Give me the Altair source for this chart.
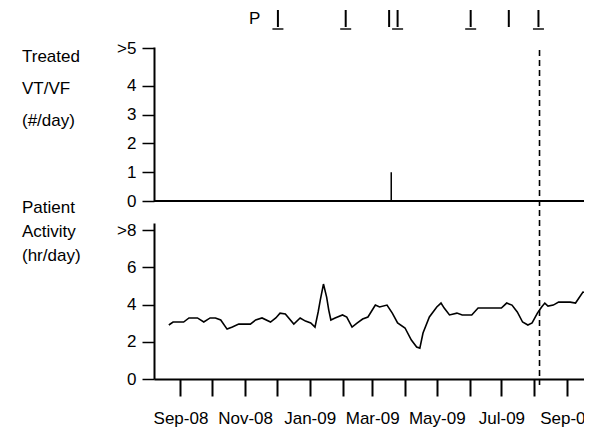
import altair as alt
import pandas as pd

# ---------------- data ----------------
act_dates = ["2008-08-21","2008-08-25","2008-09-04","2008-09-09","2008-09-17","2008-09-23","2008-09-29",
             "2008-10-04","2008-10-09","2008-10-15","2008-10-20","2008-10-26","2008-11-06","2008-11-11",
             "2008-11-17","2008-11-25","2008-11-30","2008-12-04","2008-12-09","2008-12-17","2008-12-23",
             "2008-12-28","2009-01-02","2009-01-06","2009-01-09","2009-01-11","2009-01-14","2009-01-17",
             "2009-01-19","2009-01-21","2009-01-25","2009-02-01","2009-02-05","2009-02-10","2009-02-15",
             "2009-02-20","2009-02-25","2009-03-04","2009-03-08","2009-03-15","2009-03-20","2009-03-25",
             "2009-04-01","2009-04-07","2009-04-12","2009-04-15","2009-04-18","2009-04-24","2009-05-01",
             "2009-05-05","2009-05-08","2009-05-13","2009-05-20","2009-05-25","2009-06-03","2009-06-09",
             "2009-06-20","2009-07-01","2009-07-06","2009-07-11","2009-07-16","2009-07-21","2009-07-26",
             "2009-07-30","2009-08-04","2009-08-08","2009-08-11","2009-08-14","2009-08-19","2009-08-24",
             "2009-09-04","2009-09-09","2009-09-16","2009-09-23"]
act_values = [2.90,3.06,3.06,3.28,3.28,3.06,3.28,
              3.28,3.17,2.68,2.79,2.95,2.95,3.17,
              3.28,3.06,3.28,3.54,3.49,2.95,3.28,
              3.11,3.01,2.79,3.60,4.24,5.10,4.40,
              3.70,3.17,3.28,3.44,3.33,2.79,3.01,
              3.22,3.33,3.97,3.87,3.97,3.54,3.01,
              2.74,2.09,1.72,1.66,2.47,3.33,3.87,
              4.08,3.81,3.44,3.54,3.44,3.44,3.81,
              3.81,3.81,4.08,3.97,3.60,3.06,2.90,
              3.01,3.54,3.87,4.08,3.92,3.97,4.13,
              4.13,4.08,4.67,4.62]

vt_dates = ["2009-03-19"]
vt_counts = [1]

marker_dates = ["2008-12-02","2009-02-04","2009-03-17","2009-03-25","2009-06-02","2009-07-08","2009-08-05"]
marker_underlined = [True, True, False, True, True, False, True]
p_dates = ["2008-11-10"]
p_labels = ["P"]
event_dates = ["2009-08-06"]

month_ticks = [(2008, 9), (2008, 10), (2008, 11), (2008, 12), (2009, 1), (2009, 2), (2009, 3),
               (2009, 4), (2009, 5), (2009, 6), (2009, 7), (2009, 8), (2009, 9)]
x_start = (2008, 8, 7)
x_end = (2009, 9, 17)

top_ticks = [0, 1, 2, 3, 4, 5.3]
bottom_ticks = [0, 2, 4, 6, 8]
top_title = ["Treated", "VT/VF", "(#/day)"]
bottom_title = ["Patient", "Activity", "(hr/day)"]

# ---------------- tables ----------------
act_df = pd.DataFrame({"date": act_dates, "v": act_values})
vt_df = pd.DataFrame({"date": vt_dates, "n": vt_counts})
mk_df = pd.DataFrame({"date": marker_dates, "u": marker_underlined})
p_df = pd.DataFrame({"date": p_dates, "t": p_labels})
ev_df = pd.DataFrame({"date": event_dates})
base_df = pd.DataFrame({"n": [0]})

FONT = "Liberation Sans"
W, H = 430, 332

xscale = alt.Scale(type="utc", domain=[
    alt.DateTime(year=x_start[0], month=x_start[1], date=x_start[2], utc=True),
    alt.DateTime(year=x_end[0], month=x_end[1], date=x_end[2], utc=True)])
xaxis = alt.Axis(
    values=[alt.DateTime(year=y, month=m, date=1, utc=True) for y, m in month_ticks],
    labelExpr="utcmonth(datum.value) % 2 == 0 ? utcFormat(datum.value, '%b-%y') : ''",
    tickSize=17, tickWidth=2, tickColor="black", domainColor="black", domainWidth=2,
    labelFont=FONT, labelFontSize=17, labelColor="black", labelPadding=14,
    labelOverlap=False, labelFlush=False, grid=False, title=None)
X = alt.X("date:T", scale=xscale, axis=xaxis)

top_scale = alt.Scale(domain=[0, 5.35], range=[154, 0], nice=False, zero=False)
top_axis = alt.Axis(values=top_ticks, labelExpr="datum.value > 5 ? '>5' : datum.label",
                    orient="left", tickSize=12, tickWidth=1.5, tickColor="black",
                    domainColor="black", domainWidth=2, labelFont=FONT, labelFontSize=17,
                    labelColor="black", labelPadding=6, grid=False, title=None)
bot_scale = alt.Scale(domain=[0, 8.38], range=[332, 176], nice=False, zero=False)
bot_axis = alt.Axis(values=bottom_ticks, labelExpr="datum.value >= 8 ? '>8' : datum.label",
                    orient="left", tickSize=12, tickWidth=1.5, tickColor="black",
                    domainColor="black", domainWidth=2, labelFont=FONT, labelFontSize=17,
                    labelColor="black", labelPadding=6, grid=False, title=None)

# top panel
baseline = alt.Chart(base_df).mark_rule(color="black", strokeWidth=2).encode(
    x=alt.value(0), x2=alt.value(W),
    y=alt.Y("n:Q", scale=top_scale, axis=top_axis))
spike = alt.Chart(vt_df).mark_rule(color="black", strokeWidth=1.5).encode(
    x=X, y=alt.Y("n:Q", scale=top_scale, axis=top_axis), y2=alt.datum(0))
bars = alt.Chart(mk_df).mark_rule(color="black", strokeWidth=2).encode(
    x=X, y=alt.value(-37), y2=alt.value(-20))
unders = alt.Chart(mk_df).transform_filter("datum.u").mark_tick(
    orient="horizontal", color="black", size=11, thickness=2).encode(
    x=X, y=alt.value(-18))
ptext = alt.Chart(p_df).mark_text(font=FONT, fontSize=17, color="black", baseline="middle").encode(
    x=X, y=alt.value(-28), text="t:N")
top_group = alt.layer(baseline, spike, bars, unders, ptext)

# bottom panel
line = alt.Chart(act_df).mark_line(color="black", strokeWidth=1.6, clip=True).encode(
    x=X, y=alt.Y("v:Q", scale=bot_scale, axis=bot_axis))
bottom_group = alt.layer(line)

# shared
event = alt.Chart(ev_df).mark_rule(color="black", strokeWidth=1.6, strokeDash=[6, 4]).encode(
    x=X, y=alt.value(3), y2=alt.value(338))
t1 = alt.Chart(base_df).mark_text(font=FONT, fontSize=17, color="black", align="left",
                                  baseline="top", lineHeight=32).encode(
    x=alt.value(-132), y=alt.value(2), text=alt.value(top_title))
t2 = alt.Chart(base_df).mark_text(font=FONT, fontSize=17, color="black", align="left",
                                  baseline="top", lineHeight=24).encode(
    x=alt.value(-132), y=alt.value(153), text=alt.value(bottom_title))

chart = alt.layer(top_group, bottom_group, event, t1, t2).resolve_scale(y="independent").properties(
    width=W, height=H,
    autosize=alt.AutoSizeParams(type="none"),
    padding={"left": 146, "top": 39, "right": 0, "bottom": 52},
    background="white",
).configure_view(stroke=None)

chart.save("out.html", embed_options={"renderer": "svg", "actions": False})
